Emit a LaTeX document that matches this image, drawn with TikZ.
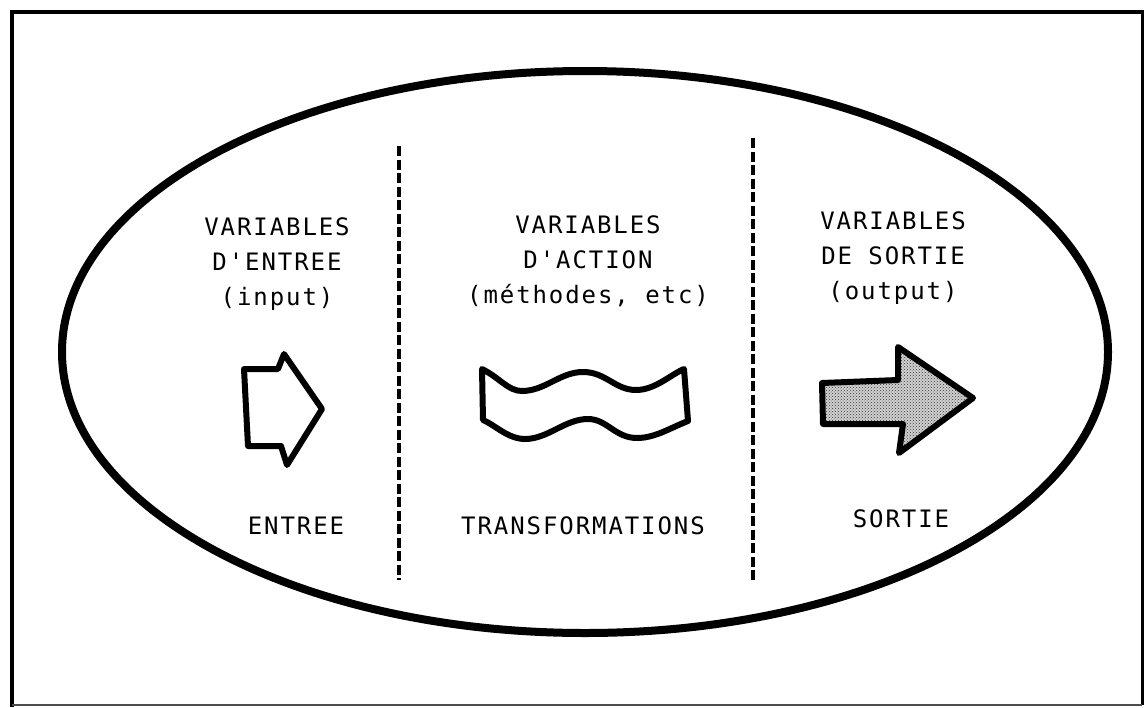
\documentclass[tikz,border=0pt]{standalone}
\usepackage{fontspec}
\usetikzlibrary{patterns}
\newfontfamily\twfont[LetterSpace=8]{DejaVu Sans Mono}
\tikzset{
  frameline/.style={line width=4.5pt, line cap=rect},
  bigellipse/.style={line width=8pt},
  sepline/.style={line width=4pt, dash pattern=on 10pt off 3.5pt},
  shapeline/.style={line width=6pt, line join=round},
  label/.style={font=\twfont\fontsize{24}{35}\selectfont, inner sep=0pt, align=center, text=black},
}
\begin{document}
\begin{tikzpicture}[x=1pt,y=-1pt]
\useasboundingbox (0,0) rectangle (1148,707);
% frame
\coordinate (tl) at (12,12);
\coordinate (tr) at (1142,12);
\coordinate (br) at (1142,705);
\coordinate (bl) at (12,705);
\draw[frameline] (bl) -- (tl) -- (tr);
\draw[line width=3pt] (tr) -- (br);
\draw[line width=1.5pt, black!70] (br) -- (bl);
% ellipse
\coordinate (ell) at (585,352);
\draw[bigellipse] (ell) ellipse[x radius=523, y radius=281];
% separators
\coordinate (s1a) at (399,146);
\coordinate (s1b) at (399,580);
\coordinate (s2a) at (753,138);
\coordinate (s2b) at (753,582);
\draw[sepline] (s1a) -- (s1b);
\draw[sepline] (s2a) -- (s2b);
% texts
\node[label, anchor=north] (t1) at (277,217.5) {VARIABLES\\D'ENTREE\\(input)};
\node[label, anchor=north] (t2) at (588,215.5) {VARIABLES\\D'ACTION\\(méthodes, etc)};
\node[label, anchor=north] (t3) at (893,211.5) {VARIABLES\\DE SORTIE\\(output)};
\node[label, anchor=base] (b1) at (296,534) {ENTREE};
\node[label, anchor=base] (b2) at (583,534) {TRANSFORMATIONS};
\node[label, anchor=base] (b3) at (901,527) {SORTIE};
% input arrow
\draw[shapeline] (244,369) -- (278,369) -- (284,354) -- (322,409) -- (287,465) -- (281,446) -- (248,446) -- cycle;
% wave
\draw[shapeline] (482,369) .. controls (500,378) and (508,391) .. (522,391)
  .. controls (545,391) and (560,372) .. (583,372)
  .. controls (606,372) and (615,390) .. (636,390)
  .. controls (655,390) and (670,375) .. (684,369)
  -- (688,421)
  .. controls (670,428) and (655,438) .. (637,438)
  .. controls (615,438) and (607,419) .. (588,419)
  .. controls (565,419) and (548,439) .. (525,439)
  .. controls (508,439) and (495,425) .. (483,420) -- cycle;
% output arrow
\fill[black!18] (822,383) -- (898,380) -- (898,347) -- (973,398) -- (899,453) -- (903,424) -- (823,424) -- cycle;
\fill[pattern=crosshatch dots, pattern color=black!80] (822,383) -- (898,380) -- (898,347) -- (973,398) -- (899,453) -- (903,424) -- (823,424) -- cycle;
\draw[shapeline] (822,383) -- (898,380) -- (898,347) -- (973,398) -- (899,453) -- (903,424) -- (823,424) -- cycle;
\end{tikzpicture}
\end{document}
